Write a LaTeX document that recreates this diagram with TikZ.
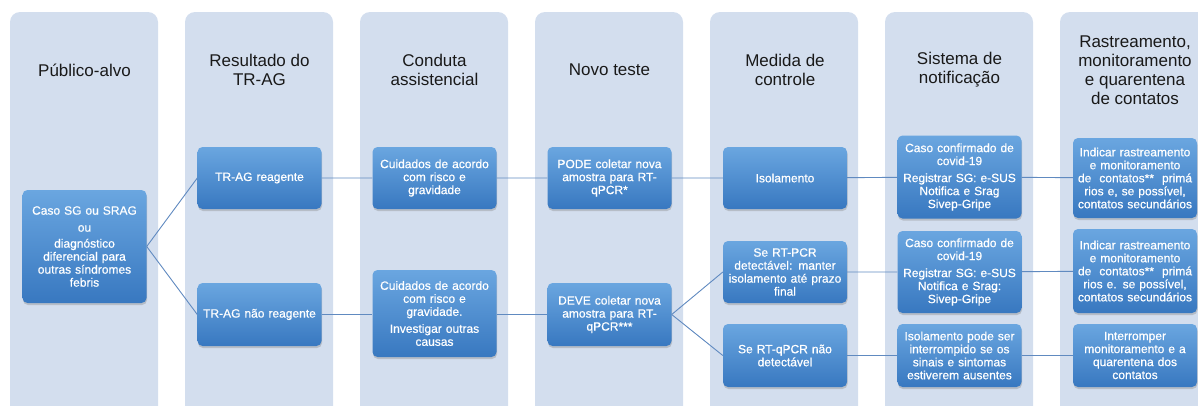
\documentclass[tikz,border=0pt]{standalone}
\usepackage{fontspec}
\setmainfont{Liberation Sans}
\newfontfamily\boxfont{Liberation Sans}[FakeBold=0.6]
\usepackage{tikz}
\usetikzlibrary{shadows}
\definecolor{lanefill}{RGB}{211,222,238}
\definecolor{boxtop}{RGB}{106,166,224}
\definecolor{boxbot}{RGB}{56,120,192}
\definecolor{linkcol}{RGB}{96,138,192}
\definecolor{headtext}{RGB}{25,25,25}

\begin{document}
\begin{tikzpicture}[x=1pt,y=-1pt,
		lane/.style={fill=lanefill,rounded corners=10pt},
		head/.style={text=headtext,align=center,font=\fontsize{17}{19}\selectfont},
		box/.style={rounded corners=5pt,top color=boxtop,bottom color=boxbot,text=white,align=center,text width=121pt,inner sep=1.5pt,font=\boxfont\fontsize{12}{13}\selectfont,drop shadow={shadow xshift=0.5pt,shadow yshift=-2pt,opacity=0.35}},
		link/.style={draw=linkcol,line width=0.9pt}]
				\useasboundingbox (0,0) rectangle (1198,405);
				\clip (0,0) rectangle (1198,405);
				\foreach \i in {0,...,6} \fill[lane] (10+175*\i,12) rectangle (158+175*\i,440);
				\foreach \x/\t [count=\i] in {84.5/{P\'ublico-alvo},259.5/{Resultado do\\TR-AG},434.5/{Conduta\\assistencial},609.5/{Novo teste},785/{Medida de\\controle},959.5/{Sistema de\\notifica\c{c}\~ao},1135/{Rastreamento,\\monitoramento\\e quarentena\\de contatos}}
					\node[head] (h\i) at (\x,70) {\t};
				\node[box,minimum height=113pt] (caso) at (84.5,246.5) {Caso SG ou SRAG\\[4pt]ou\\[3pt]diagnóstico\\diferencial para\\outras síndromes\\febris};
				\node[box,minimum height=62pt] (reag) at (259.5,178) {TR-AG reagente};
				\node[box,minimum height=63pt] (naoreag) at (259.5,314.5) {TR-AG não reagente};
				\node[box,minimum height=62pt] (cuid1) at (434.5,178) {Cuidados de acordo\\com risco e\\gravidade};
				\node[box,minimum height=87pt] (cuid2) at (434.5,313.5) {Cuidados de acordo\\com risco e\\gravidade.\\[4pt]Investigar outras\\causas};
				\node[box,minimum height=62pt] (pode) at (609.5,178) {PODE coletar nova\\amostra para RT-\\qPCR*};
				\node[box,minimum height=63pt] (deve) at (609.5,314.5) {DEVE coletar nova\\amostra para RT-\\qPCR***};
				\node[box,minimum height=62pt] (isol) at (785,178) {Isolamento};
				\node[box,minimum height=62pt] (detec) at (785,272) {Se RT-PCR\\detectável: manter\\isolamento até prazo\\final};
				\node[box,minimum height=63pt] (naodetec) at (785,355.5) {Se RT-qPCR não\\detectável};
				\node[box,minimum height=83pt] (notif1) at (959.5,177) {Caso confirmado de\\covid-19\\[4pt]Registrar SG: e-SUS\\Notifica e Srag\\Sivep-Gripe};
				\node[box,minimum height=82pt] (notif2) at (959.5,272) {Caso confirmado de\\covid-19\\[4pt]Registrar SG: e-SUS\\Notifica e Srag:\\Sivep-Gripe};
				\node[box,minimum height=63pt] (interromp) at (959.5,355.5) {Isolamento pode ser\\interrompido se os\\sinais e sintomas\\estiverem ausentes};
				\node[box,minimum height=80pt] (rastr1) at (1135,178) {Indicar rastreamento\\e monitoramento\\de~~contatos**~~primá\\rios e, se possível,\\contatos secundários};
				\node[box,minimum height=84pt] (rastr2) at (1135,271) {Indicar rastreamento\\e monitoramento\\de~~contatos**~~primá\\rios e. se possível,\\contatos secundários};
				\node[box,minimum height=63pt] (fim) at (1135,355.5) {Interromper\\monitoramento e a\\quarentena dos\\contatos};
				\draw[link] (caso.east) -- (reag.west);
				\draw[link] (caso.east) -- (naoreag.west);
				\draw[link] (reag) -- (cuid1) -- (pode) -- (isol) -- (notif1) -- (rastr1);
				\draw[link] (naoreag) -- (cuid2.west |- naoreag) (cuid2.east |- naoreag) -- (deve);
				\draw[link] (deve.east) -- (detec.west);
				\draw[link] (deve.east) -- (naodetec.west);
				\draw[link] (detec) -- (notif2) -- (rastr2);
				\draw[link] (naodetec) -- (interromp) -- (fim);
			\end{tikzpicture}
\end{document}
